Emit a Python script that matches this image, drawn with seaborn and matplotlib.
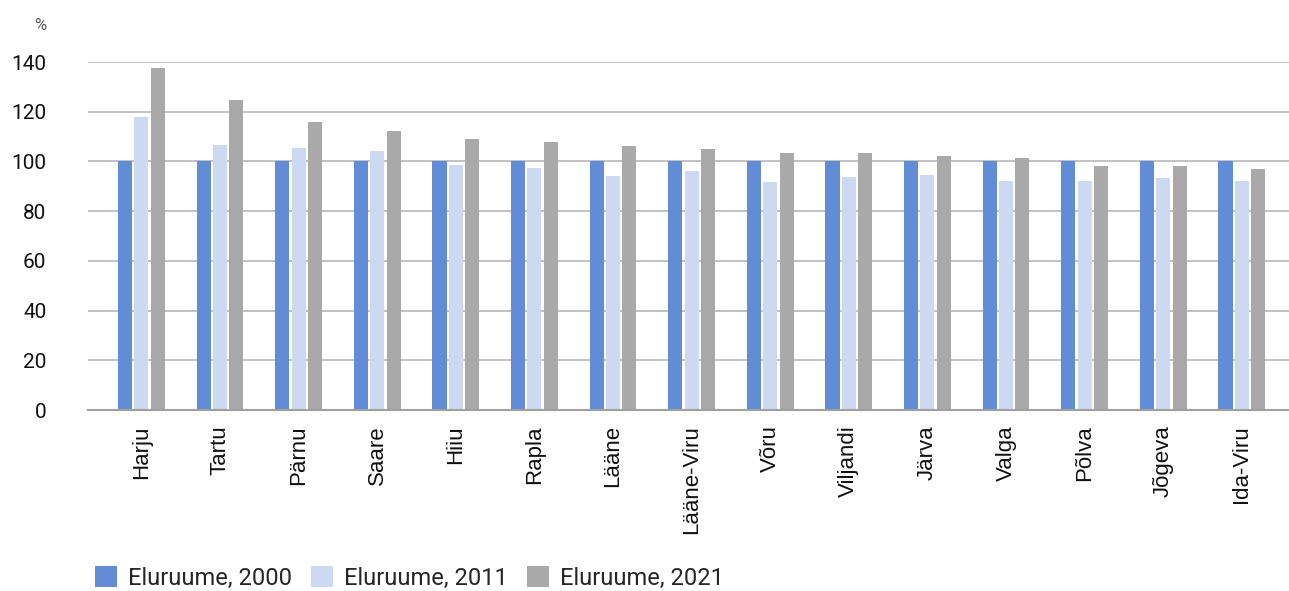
import numpy as np
import pandas as pd
import matplotlib
matplotlib.use('Agg')
import matplotlib.pyplot as plt
import seaborn as sns

# data
counties = ['Harju', 'Tartu', 'Pärnu', 'Saare', 'Hiiu', 'Rapla', 'Lääne',
            'Lääne-Viru', 'Võru', 'Viljandi', 'Järva', 'Valga', 'Põlva',
            'Jõgeva', 'Ida-Viru']
y2000 = [100, 100, 100, 100, 100, 100, 100, 100, 100, 100, 100, 100, 100, 100, 100]
y2011 = [117.9, 106.6, 105.4, 104.2, 98.6, 97.3, 94.1, 96.1, 91.7, 93.7,
         94.5, 92.1, 92.1, 93.3, 92.1]
y2021 = [137.6, 124.7, 115.8, 112.2, 109.0, 107.8, 106.2, 105.0, 103.4, 103.4,
         102.2, 101.4, 98.1, 98.1, 96.9]
series = ['Eluruume, 2000', 'Eluruume, 2011', 'Eluruume, 2021']
colors = ['#628CD5', '#CDD9F0', '#A9A9A9']

df = pd.DataFrame({'county': counties * 3,
                   'value': y2000 + y2011 + y2021,
                   'series': np.repeat(series, len(counties))})

sns.set_style('white')
plt.rcParams['font.family'] = ['Roboto', 'DejaVu Sans']

fig = plt.figure(figsize=(12.89, 5.91), dpi=100)
ax = fig.add_axes([88 / 1289, 1 - 410 / 591, 1 - 88 / 1289, 348 / 591])

sns.barplot(data=df, x='county', y='value', hue='series', palette=colors,
            saturation=1, width=0.624, gap=0.14, linewidth=0, ax=ax)

ax.set_ylim(0, 140)
ax.set_yticks(range(0, 141, 20))
ax.yaxis.grid(True, color='#BDBDBD', linewidth=1.3)
ax.set_axisbelow(True)
for s in ['top', 'right', 'left']:
    ax.spines[s].set_visible(False)
ax.spines['bottom'].set_color('#A0A0A0')
ax.spines['bottom'].set_linewidth(1.5)
ax.set_xlim(-0.68, 14.6)
ax.tick_params(axis='both', length=0, colors='#111111')
ax.tick_params(axis='y', labelsize=15, pad=30)
ax.tick_params(axis='x', pad=11)
for lab in ax.get_xticklabels():
    lab.set_rotation(90)
    lab.set_fontfamily(['Liberation Sans', 'DejaVu Sans'])
    lab.set_fontsize(16)
ax.set_xlabel('')
ax.set_ylabel('')
fig.text(40 / 1289, 1 - 25 / 591, '%', fontsize=12, color='#595959', ha='center', va='center')

ax.legend(loc='center left', bbox_to_anchor=(95 / 1289, 1 - 578 / 591),
          bbox_transform=fig.transFigure, ncol=3, frameon=False, fontsize=17,
          handlelength=0.95, handleheight=0.95, handletextpad=0.45,
          columnspacing=0.8, borderaxespad=0, borderpad=0)

fig.savefig('out.png', dpi=100)
